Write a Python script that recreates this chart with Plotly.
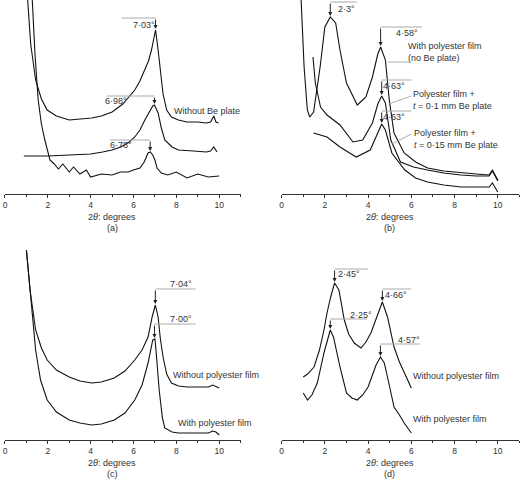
import plotly.graph_objects as go

# ---------- data (2θ degrees, relative intensity) ----------
a1_x = [1.04, 1.2, 1.43, 1.7, 1.97, 2.4, 3.0, 3.5, 4.05, 4.5, 5.0, 5.5, 6.06, 6.3, 6.53, 6.7, 6.84, 6.95, 7.03, 7.15, 7.25, 7.38, 7.55, 7.77, 8.1, 8.5, 9.0, 9.4, 9.6, 9.75, 9.85, 9.97]
a1_y = [200, 150, 114, 95, 84, 78, 74, 75, 76, 78, 82, 90, 104, 113, 124, 133, 144, 155, 164, 144, 122, 100, 84, 77, 74, 72, 72, 71, 72, 78, 72, 71]
a2_x = [0.88, 1.5, 2.0, 3.0, 4.0, 4.56, 5.0, 5.4, 5.8, 6.06, 6.3, 6.53, 6.75, 6.9, 6.98, 7.15, 7.3, 7.46, 7.8, 8.1, 8.8, 9.4, 9.6, 9.75, 9.9]
a2_y = [38, 38, 38, 39, 40, 42, 44, 47, 52, 57, 64, 74, 83, 88, 89, 81, 66, 54, 47, 44, 43, 42, 43, 47, 42]
a3_x = [1.26, 1.4, 1.55, 1.7, 1.86, 2.0, 2.1, 2.3, 2.5, 2.7, 3.0, 3.2, 3.5, 3.8, 4.0, 4.5, 5.0, 5.4, 5.75, 6.0, 6.3, 6.5, 6.68, 6.78, 6.9, 7.0, 7.1, 7.3, 7.6, 8.0, 8.5, 9.0, 9.5, 10.0]
a3_y = [200, 140, 94, 70, 54, 42, 34, 30, 25, 30, 22, 27, 20, 24, 17, 20, 19, 22, 22, 24, 26, 32, 41, 42, 39, 34, 26, 21, 19, 22, 16, 20, 17, 18]

b1_x = [0.89, 1.04, 1.19, 1.3, 1.48, 1.78, 2.0, 2.25, 2.5, 2.7, 3.0, 3.5, 3.9, 4.2, 4.45, 4.58, 4.8, 4.98, 5.2, 5.67, 6.2, 6.75, 7.5, 8.3, 9.0, 9.6, 9.75, 9.85, 10.0]
b1_y = [200, 127, 84, 77, 82, 127, 167, 177, 171, 144, 111, 89, 97, 117, 140, 147, 134, 94, 61, 41, 32, 26, 23, 21, 20, 19, 24, 20, 14]
b2_x = [1.45, 1.56, 1.8, 2.1, 2.7, 3.3, 3.75, 4.2, 4.45, 4.63, 4.8, 5.05, 5.5, 6.1, 6.75, 7.5, 8.3, 9.0, 9.6, 9.75, 9.85, 10.0]
b2_y = [137, 111, 87, 79, 69, 52, 54, 71, 90, 98, 91, 54, 32, 27, 24, 21, 19, 18, 18, 23, 19, 13]
b3_x = [1.48, 2.1, 2.7, 3.45, 4.1, 4.45, 4.63, 4.8, 5.1, 5.7, 6.2, 6.75, 7.5, 8.3, 9.0, 9.6, 9.75, 9.85, 10.0]
b3_y = [61, 57, 47, 37, 44, 62, 70, 64, 41, 24, 16, 12, 9, 7, 7, 7, 11, 7, 2]

c1_x = [1.0, 1.17, 1.43, 1.7, 1.97, 2.4, 3.0, 3.5, 4.05, 4.5, 5.1, 5.6, 6.06, 6.4, 6.68, 6.87, 7.02, 7.15, 7.25, 7.38, 7.55, 7.77, 8.1, 8.5, 9.0, 9.5, 9.7, 10.0]
c1_y = [190, 150, 110, 92, 80, 70, 63, 59, 57, 58, 62, 69, 80, 90, 103, 123, 135, 123, 102, 83, 66, 57, 54, 53, 53, 53, 55, 52]
c2_x = [1.0, 1.17, 1.3, 1.43, 1.66, 1.97, 2.4, 3.0, 3.5, 4.05, 4.5, 5.1, 5.6, 6.06, 6.4, 6.68, 6.9, 7.0, 7.05, 7.2, 7.35, 7.46, 7.8, 8.1, 9.0, 9.5, 9.7, 9.85, 10.0]
c2_y = [190, 150, 115, 90, 60, 40, 28, 20, 17, 15, 16, 20, 27, 40, 55, 77, 100, 101, 90, 50, 22, 12, 8, 7, 7, 7, 9, 8, 5]

d1_x = [1.0, 1.2, 1.5, 1.75, 1.96, 2.1, 2.27, 2.45, 2.65, 2.9, 3.1, 3.36, 3.67, 3.9, 4.13, 4.3, 4.45, 4.66, 4.9, 5.2, 5.45, 5.67, 6.0]
d1_y = [63, 66, 73, 90, 110, 127, 143, 157, 150, 120, 106, 97, 92, 98, 107, 117, 127, 138, 123, 93, 78, 67, 52]
d2_x = [1.0, 1.2, 1.4, 1.65, 1.96, 2.2, 2.25, 2.4, 2.7, 3.0, 3.25, 3.5, 3.75, 4.0, 4.2, 4.37, 4.57, 4.75, 5.0, 5.2, 5.45, 5.67, 6.0]
d2_y = [47, 40, 45, 57, 87, 108, 110, 103, 73, 47, 42, 40, 45, 53, 64, 75, 83, 77, 53, 33, 25, 17, 7]

tick_vals = [0, 2, 4, 6, 8, 10]
tick_text = ["0", "2", "4", "6", "8", "10"]

# ---------- figure ----------
fig = go.Figure()
W, H = 520, 480
panels = {  # axis suffix: (x px left, x px right, y px top, y px bottom, ymax)
    "": (3, 239.5, 0, 194, 194),
    "2": (280.7, 519.4, 0, 194, 194),
    "3": (3, 239.5, 240, 440, 200),
    "4": (280.7, 519.4, 240, 440, 200),
}
labels = {"": "(a)", "2": "(b)", "3": "(c)", "4": "(d)"}
font = "Liberation Sans, Arial, sans-serif"
FS = 9

for s, (xl, xr, yt, yb, ymax) in panels.items():
    xa = dict(domain=[xl / W, xr / W], range=[0, 11], tickvals=tick_vals, ticktext=tick_text,
              ticks="outside", ticklen=3, tickcolor="#333", showline=True, linecolor="#333",
              linewidth=1, showgrid=False, zeroline=False,
              minor=dict(dtick=1, ticks="outside", ticklen=2, tickcolor="#333"),
              tickfont=dict(size=FS - 0.5, color="#333", family=font), anchor="y" + s, fixedrange=True)
    ya = dict(domain=[1 - yb / H, 1 - yt / H], range=[0, ymax], visible=False, anchor="x" + s,
              fixedrange=True)
    fig.layout["xaxis" + s] = xa
    fig.layout["yaxis" + s] = ya
    fig.add_annotation(x=5, y=1 - (yb + 16) / H, xref="x" + s, yref="paper", yanchor="top",
                       showarrow=False, text="2<i>θ</i>: degrees",
                       font=dict(size=FS, color="#333", family=font))
    fig.add_annotation(x=5, y=1 - (yb + 27) / H, xref="x" + s, yref="paper", yanchor="top",
                       showarrow=False, text=labels[s],
                       font=dict(size=FS, color="#333", family=font))

def curve(x, y, s):
    fig.add_trace(go.Scatter(x=x, y=y, xaxis="x" + s, yaxis="y" + s, mode="lines",
                             line=dict(color="#111", width=1.1), showlegend=False, hoverinfo="skip"))

for x, y, s in [(a1_x, a1_y, ""), (a2_x, a2_y, ""), (a3_x, a3_y, ""),
                (b1_x, b1_y, "2"), (b2_x, b2_y, "2"), (b3_x, b3_y, "2"),
                (c1_x, c1_y, "3"), (c2_x, c2_y, "3"),
                (d1_x, d1_y, "4"), (d2_x, d2_y, "4")]:
    curve(x, y, s)

def peak(s, px, py, lx0, lx1, ly, text, tx, ty):
    fig.add_shape(type="line", xref="x" + s, yref="y" + s, x0=lx0, x1=lx1, y0=ly, y1=ly,
                  line=dict(color="#aaa", width=1))
    fig.add_annotation(x=px, y=py + 1, ax=px, ay=ly, xref="x" + s, yref="y" + s,
                       axref="x" + s, ayref="y" + s, showarrow=True, arrowhead=2, arrowsize=0.8,
                       arrowwidth=1, arrowcolor="#222", text="")
    fig.add_annotation(x=tx, y=ty, xref="x" + s, yref="y" + s, showarrow=False, text=text,
                       font=dict(size=FS, color="#333", family=font))

def label(s, x, y, text, align="left", xanchor="left"):
    fig.add_annotation(x=x, y=y, xref="x" + s, yref="y" + s, showarrow=False, text=text,
                       align=align, xanchor=xanchor,
                       font=dict(size=FS, color="#333", family=font))

def leader(s, x0, y0, x1, y1):
    fig.add_shape(type="line", xref="x" + s, yref="y" + s, x0=x0, y0=y0, x1=x1, y1=y1,
                  line=dict(color="#999", width=0.8))

# (a)
peak("", 7.03, 164, 5.45, 7.03, 176, "7·03°", 6.5, 169)
peak("", 6.98, 89, 4.75, 6.98, 98, "6·98°", 5.2, 93)
peak("", 6.78, 42, 4.9, 6.78, 54, "6·78°", 5.4, 49)
label("", 7.8, 83, "Without Be plate")
label("", 11.75, 44, "With <i>t</i> = 0·3 mm Be plate<br><i>z</i> = 0 at specimen surface", "right", "right")
label("", 11.2, 31, "With <i>t</i> = 0·3 mm Be plate<br><i>z</i> = 0 at Be plate surface", "right", "right")

# (b)
peak("2", 2.25, 177, 2.25, 3.5, 192, "2·3°", 3.0, 185)
peak("2", 4.58, 147, 4.58, 6.5, 167, "4·58°", 5.8, 161)
peak("2", 4.63, 98, 4.63, 6.0, 114, "4·63°", 5.2, 108)
peak("2", 4.63, 70, 4.63, 6.0, 83, "4·63°", 5.2, 77)
label("2", 5.75, 142, "With polyester film<br>(no Be plate)")
leader("2", 5.9, 132, 4.9, 132)
label("2", 6.0, 94, "Polyester film +<br><i>t</i> = 0·1 mm Be plate")
leader("2", 6.0, 98, 4.95, 90)
label("2", 6.05, 55, "Polyester film +<br><i>t</i> = 0·15 mm Be plate")
leader("2", 6.0, 60, 5.1, 50)

# (c)
peak("3", 7.02, 135, 7.02, 8.9, 151, "7·04°", 8.2, 156)
peak("3", 6.98, 101, 6.98, 8.9, 116, "7·00°", 8.2, 121)
label("3", 7.75, 65, "Without polyester film")
label("3", 8.0, 17, "With polyester film")

# (d)
peak("4", 2.45, 157, 2.45, 4.0, 171, "2·45°", 3.1, 166)
peak("4", 4.66, 138, 4.66, 6.0, 151, "4·66°", 5.3, 145)
peak("4", 2.25, 110, 2.25, 3.95, 121, "2·25°", 3.65, 125)
peak("4", 4.57, 83, 4.57, 6.4, 96, "4·57°", 5.9, 100)
label("4", 6.0, 64, "Without polyester film")
label("4", 6.0, 21, "With polyester film")

fig.update_layout(width=W, height=H, margin=dict(l=0, r=0, t=0, b=0),
                  paper_bgcolor="white", plot_bgcolor="white")
fig.write_html("out.html", config={"displayModeBar": False},
               post_script="document.body.style.margin='0';")
